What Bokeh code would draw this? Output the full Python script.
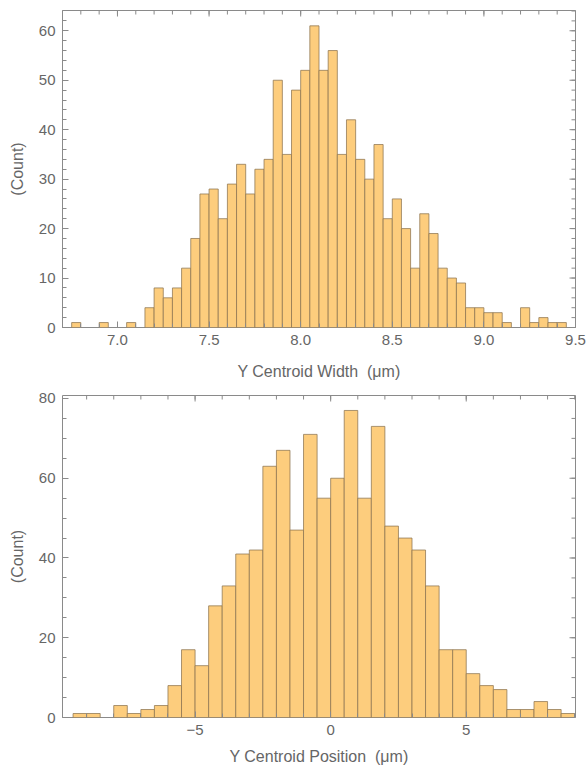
import math
from bokeh.plotting import figure
from bokeh.layouts import column
from bokeh.models import ColumnDataSource, FixedTicker, Range1d
from bokeh.embed import file_html
from bokeh.resources import INLINE

# ---------------- data: top histogram (Y centroid width, um) ----------------
width_bin_start = 6.75
width_bin_size = 0.05
width_counts = [1, 0, 0, 1, 0, 0, 1, 0,
                4, 8, 6, 8, 12, 18, 27, 28, 22, 29, 33, 27, 32, 34, 50, 35, 48,
                52, 61, 52, 56, 35, 42, 34, 30, 37, 22, 26, 20, 12, 23, 19, 12,
                10, 9, 4, 4, 3, 3, 1, 0, 4, 1, 2, 1, 1]
width_x_range = (6.70, 9.50)
width_y_range = (0, 64.1)
width_x_ticks = [7.0, 7.5, 8.0, 8.5, 9.0, 9.5]
width_x_labels = ["7.0", "7.5", "8.0", "8.5", "9.0", "9.5"]
width_y_ticks = [0, 10, 20, 30, 40, 50, 60]
width_y_labels = ["0", "10", "20", "30", "40", "50", "60"]

# ---------------- data: bottom histogram (Y centroid position, um) ----------------
pos_bin_start = -9.5
pos_bin_size = 0.5
pos_counts = [1, 1, 0, 3, 1, 2, 3, 8, 17, 13, 28, 33, 41, 42, 63, 67, 47,
              71, 55, 60, 77, 55, 73, 48, 45, 42, 33, 17, 17, 11, 8, 7, 2, 2,
              4, 2, 1]
pos_x_range = (-9.89, 9.03)
pos_y_range = (0, 80.75)
pos_x_ticks = [-5, 0, 5]
pos_x_labels = ["\u22125", "0", "5"]
pos_y_ticks = [0, 20, 40, 60, 80]
pos_y_labels = ["0", "20", "40", "60", "80"]

# ---------------- style ----------------
FONT = "Liberation Sans"
TEXT_COLOR = "#666666"
FRAME_COLOR = "#8a8a8a"
BAR_FILL = "#FDCD7D"
BAR_EDGE = "#8c7450"
MAJOR_LEN = 6
MINOR_LEN = 4


def hist_source(start, size, counts):
    left, right, top = [], [], []
    for i, c in enumerate(counts):
        if c > 0:
            left.append(start + i * size)
            right.append(start + (i + 1) * size)
            top.append(c)
    return ColumnDataSource(dict(left=left, right=right, top=top))


def frange(a, b, step):
    n = int(round((b - a) / step))
    return [round(a + i * step, 6) for i in range(n + 1)]


def style_axis(ax):
    ax.axis_line_color = None
    ax.major_tick_line_color = FRAME_COLOR
    ax.minor_tick_line_color = FRAME_COLOR
    ax.major_tick_in = MAJOR_LEN
    ax.major_tick_out = 0
    ax.minor_tick_in = MINOR_LEN
    ax.minor_tick_out = 0
    ax.major_label_text_font = FONT
    ax.major_label_text_font_size = "15px"
    ax.major_label_text_color = TEXT_COLOR
    ax.axis_label_text_font = FONT
    ax.axis_label_text_font_size = "16px"
    ax.axis_label_text_font_style = "normal"
    ax.axis_label_text_color = TEXT_COLOR


def mirror_ticks(p, xr, yr, xt, xminor, yt, yminor):
    # tick marks on the top and right frame edges (half of each dash is clipped by the frame)
    p.scatter(x=xt, y=[yr[1]] * len(xt), marker="dash", angle=math.pi / 2,
              size=2 * MAJOR_LEN, line_color=FRAME_COLOR, line_width=1)
    p.scatter(x=xminor, y=[yr[1]] * len(xminor), marker="dash", angle=math.pi / 2,
              size=2 * MINOR_LEN, line_color=FRAME_COLOR, line_width=1)
    p.scatter(x=[xr[1]] * len(yt), y=yt, marker="dash",
              size=2 * MAJOR_LEN, line_color=FRAME_COLOR, line_width=1)
    p.scatter(x=[xr[1]] * len(yminor), y=yminor, marker="dash",
              size=2 * MINOR_LEN, line_color=FRAME_COLOR, line_width=1)


def make_hist(src, xr, yr, xt, xl, xminor, yt, yl, yminor,
              xlabel, height, mbt, mbb, xlab_standoff):
    p = figure(width=586, height=height, x_range=Range1d(*xr),
               y_range=Range1d(*yr), output_backend="svg",
               toolbar_location=None, min_border_left=62, min_border_right=11,
               min_border_top=mbt, min_border_bottom=mbb)
    p.grid.visible = False
    p.outline_line_color = FRAME_COLOR
    p.outline_line_width = 1
    p.background_fill_color = "white"
    p.border_fill_color = "white"

    p.quad(left="left", right="right", top="top", bottom=0, source=src,
           fill_color=BAR_FILL, line_color=BAR_EDGE, line_alpha=0.75,
           line_width=1)

    mirror_ticks(p, xr, yr, xt, xminor, yt, yminor)

    xa = p.xaxis[0]
    xa.ticker = FixedTicker(ticks=xt, minor_ticks=xminor)
    xa.major_label_overrides = {t: s for t, s in zip(xt, xl)}
    style_axis(xa)
    xa.axis_label = xlabel
    xa.major_label_standoff = 7
    xa.axis_label_standoff = xlab_standoff

    ya = p.yaxis[0]
    ya.ticker = FixedTicker(ticks=yt, minor_ticks=yminor)
    ya.major_label_overrides = {t: s for t, s in zip(yt, yl)}
    style_axis(ya)
    ya.axis_label = "(Count)"
    ya.major_label_standoff = 7
    ya.axis_label_standoff = 10
    return p


p1 = make_hist(hist_source(width_bin_start, width_bin_size, width_counts),
               width_x_range, width_y_range,
               width_x_ticks, width_x_labels, frange(6.7, 9.5, 0.1),
               width_y_ticks, width_y_labels, frange(0, 64, 2),
               "Y Centroid Width \u00a0(\u03bcm)", 385, 10, 58, 15)

p2 = make_hist(hist_source(pos_bin_start, pos_bin_size, pos_counts),
               pos_x_range, pos_y_range,
               pos_x_ticks, pos_x_labels, frange(-9, 9, 1),
               pos_y_ticks, pos_y_labels, frange(0, 80, 5),
               "Y Centroid Position \u00a0(\u03bcm)", 384, 10, 52, 10)

layout = column(p1, p2, spacing=0)

open("out.html", "w").write(file_html(layout, INLINE))
